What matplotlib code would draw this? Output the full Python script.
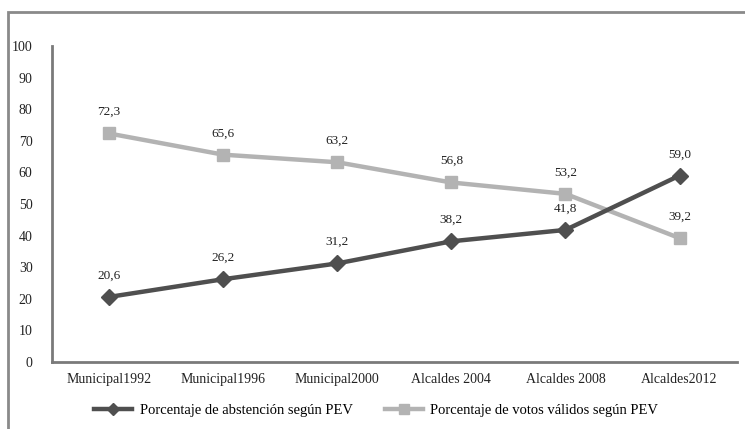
import matplotlib.pyplot as plt
from matplotlib.patches import Rectangle

categories = ['Municipal1992', 'Municipal1996', 'Municipal2000',
              'Alcaldes 2004', 'Alcaldes 2008', 'Alcaldes2012']
abstencion = [20.6, 26.2, 31.2, 38.2, 41.8, 59.0]
votos_validos = [72.3, 65.6, 63.2, 56.8, 53.2, 39.2]
labels = ['Porcentaje de abstención según PEV', 'Porcentaje de votos válidos según PEV']

plt.rcParams['font.family'] = ['Liberation Serif', 'DejaVu Serif']

dark = '#4f4f4f'
light = '#b3b3b3'

fig = plt.figure(figsize=(7.45, 4.29), dpi=100)
ax = fig.add_axes([0.0698, 0.156, 0.919, 0.737])

x = list(range(len(categories)))
ax.plot(x, votos_validos, color=light, lw=3.2, marker='s', ms=9,
        markeredgecolor=light, label=labels[1], zorder=2)
ax.plot(x, abstencion, color=dark, lw=3.2, marker='D', ms=8,
        markeredgecolor=dark, label=labels[0], zorder=3)

for xi, v in zip(x, abstencion):
    ax.annotate(f'{v:.1f}'.replace('.', ','), (xi, v), xytext=(0, 11),
                textcoords='offset points', ha='center', va='bottom', fontsize=9.5, color='#222222')
for xi, v in zip(x, votos_validos):
    ax.annotate(f'{v:.1f}'.replace('.', ','), (xi, v), xytext=(0, 11),
                textcoords='offset points', ha='center', va='bottom', fontsize=9.5, color='#222222')

ax.set_xlim(-0.5, len(categories) - 0.5)
ax.set_ylim(0, 100)
ax.set_yticks(range(0, 101, 10))
ax.set_xticks(x)
ax.set_xticklabels(categories)
ax.tick_params(length=0, labelsize=10, colors='#222222')
ax.tick_params(axis='y', pad=14)
ax.tick_params(axis='x', pad=8)

for side in ['top', 'right']:
    ax.spines[side].set_visible(False)
for side in ['left', 'bottom']:
    ax.spines[side].set_color('#7a7a7a')
    ax.spines[side].set_linewidth(2)

handles, lbls = ax.get_legend_handles_labels()
fig.legend(handles[::-1], lbls[::-1], loc='center', bbox_to_anchor=(0.505, 0.044), ncol=2,
           frameon=False, fontsize=10.5, handlelength=2.6, columnspacing=2.2, handletextpad=0.5,
           markerscale=0.8)

fig.patches.append(Rectangle((0.0107, -0.05), 1.05, 1.022, transform=fig.transFigure,
                             fill=False, edgecolor='#8a8a8a', lw=2))

fig.savefig('out.png', dpi=100)
